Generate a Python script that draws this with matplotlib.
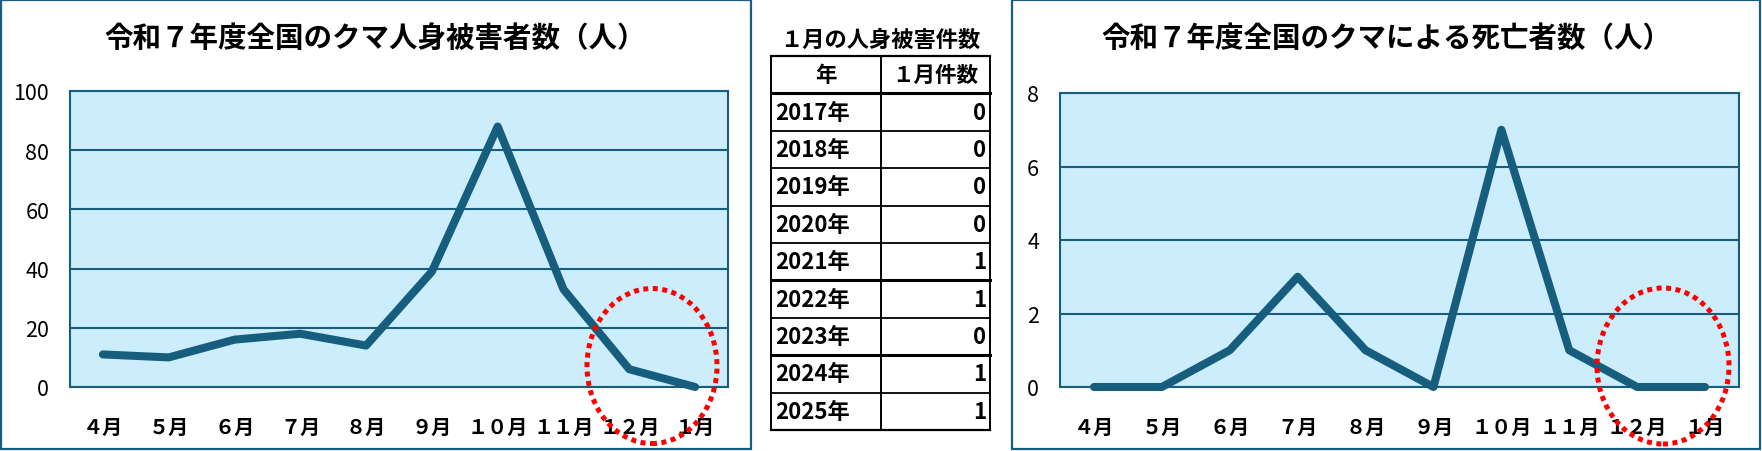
import matplotlib
matplotlib.use('Agg')
import matplotlib.pyplot as plt
from matplotlib.patches import Rectangle, Ellipse
from matplotlib.lines import Line2D

# ---------------- data ----------------
months = ['４月', '５月', '６月', '７月', '８月', '９月', '１０月', '１１月', '１２月', '１月']
injuries = [11, 10, 16, 18, 14, 39, 88, 33, 6, 0]
deaths = [0, 0, 1, 3, 1, 0, 7, 1, 0, 0]
title_left = '令和７年度全国のクマ人身被害者数（人）'
title_right = '令和７年度全国のクマによる死亡者数（人）'
table_title = '１月の人身被害件数'
table_header = ['年', '１月件数']
table_years = ['2017年', '2018年', '2019年', '2020年', '2021年', '2022年', '2023年', '2024年', '2025年']
jan_counts = [0, 0, 0, 0, 1, 1, 0, 1, 1]

# ---------------- style ----------------
W, H = 1762, 452
LINE = '#175E7E'
BG = '#CCEDFB'
JP = ['Noto Sans CJK JP', 'DejaVu Sans']

fig = plt.figure(figsize=(W / 100, H / 100), dpi=100)
fig.patch.set_facecolor('white')


def fx(x):
    return x / W


def fy(y):
    return 1 - y / H


def px_axes(x0, y0, x1, y1):
    return fig.add_axes([fx(x0), fy(y1), (x1 - x0) / W, (y1 - y0) / H])


def panel_border(x0, y0, x1, y1):
    fig.add_artist(Rectangle((fx(x0), fy(y1)), (x1 - x0) / W, (y1 - y0) / H,
                             transform=fig.transFigure, fill=False,
                             edgecolor=LINE, lw=1.6, zorder=0))


def chart(box, values, ymax, ystep, title, title_xy, ell):
    x0, y0, x1, y1 = box
    ax = px_axes(x0, y0, x1, y1)
    ax.set_facecolor(BG)
    xs = list(range(len(months)))
    ax.plot(xs, values, color=LINE, lw=5.8, solid_capstyle='round',
            solid_joinstyle='round', clip_on=False, zorder=5)
    ax.set_xlim(-0.5, len(months) - 0.5)
    ax.set_ylim(0, ymax)
    ax.set_yticks(list(range(0, ymax + 1, ystep)))
    ax.set_xticks(xs)
    ax.set_xticklabels(months, fontfamily=JP, fontsize=14.5, fontweight='bold')
    for lab in ax.get_yticklabels():
        lab.set_fontfamily(JP)
        lab.set_fontsize(15.5)
    ax.tick_params(axis='both', length=0)
    ax.tick_params(axis='x', pad=21)
    ax.tick_params(axis='y', pad=15)
    ax.grid(axis='y', color=LINE, lw=1.5)
    ax.set_axisbelow(True)
    for s in ax.spines.values():
        s.set_color(LINE)
        s.set_linewidth(1.5)
    fig.text(fx(title_xy[0]), fy(title_xy[1]), title, fontfamily=JP,
             fontweight='bold', fontsize=20.5, ha='center', va='center')
    cx, cy, ew, eh = ell
    fig.add_artist(Ellipse((fx(cx), fy(cy)), ew / W, eh / H,
                           transform=fig.transFigure, fill=False,
                           edgecolor='#FF0000', lw=3.6,
                           linestyle=(0, (1, 0.9)), zorder=10))
    return ax


# left panel
panel_border(1, 1, 751, 450)
chart((70, 92, 728, 388), injuries, 100, 20, title_left, (375, 39),
      (652, 367, 130, 155))

# right panel
panel_border(1012, 1, 1760, 450)
chart((1060, 94, 1739, 388), deaths, 8, 2, title_right, (1386, 39),
      (1663, 367, 132, 156))

# ---------------- table ----------------
tx0, tx1, txm = 771, 990, 881
ty0, ty1 = 57, 431
nrows = len(table_years) + 1
rh = (ty1 - ty0) / nrows
tab = px_axes(tx0, ty0, tx1, ty1)
tab.set_xlim(tx0, tx1)
tab.set_ylim(ty1, ty0)
tab.axis('off')

fig.text(fx((tx0 + tx1) / 2), fy(40), table_title, fontfamily=JP,
         fontweight='bold', fontsize=16, ha='center', va='center')

thick_after = {1, 6, 8}
for i in range(nrows + 1):
    y = ty0 + i * rh
    lw = 2.2 if i in thick_after else 1.3
    if i in (0, nrows):
        lw = 1.6
    tab.add_line(Line2D([tx0, tx1], [y, y], color='black', lw=lw, clip_on=False))
for x in (tx0, txm, tx1):
    tab.add_line(Line2D([x, x], [ty0, ty1], color='black', lw=1.4, clip_on=False))

# header
tab.text((tx0 + txm) / 2, ty0 + rh / 2, table_header[0], fontfamily=JP,
         fontweight='bold', fontsize=15.5, ha='center', va='center')
tab.text((txm + tx1) / 2, ty0 + rh / 2, table_header[1], fontfamily=JP,
         fontweight='bold', fontsize=15.5, ha='center', va='center')
for k, (yr, v) in enumerate(zip(table_years, jan_counts)):
    yc = ty0 + (k + 1.5) * rh
    tab.text(tx0 + 4, yc, yr, fontfamily=JP, fontweight='bold',
             fontsize=16, ha='left', va='center')
    tab.text(tx1 - 4, yc, str(v), fontfamily=JP, fontweight='bold',
             fontsize=16, ha='right', va='center')

fig.savefig('out.png', dpi=100)
